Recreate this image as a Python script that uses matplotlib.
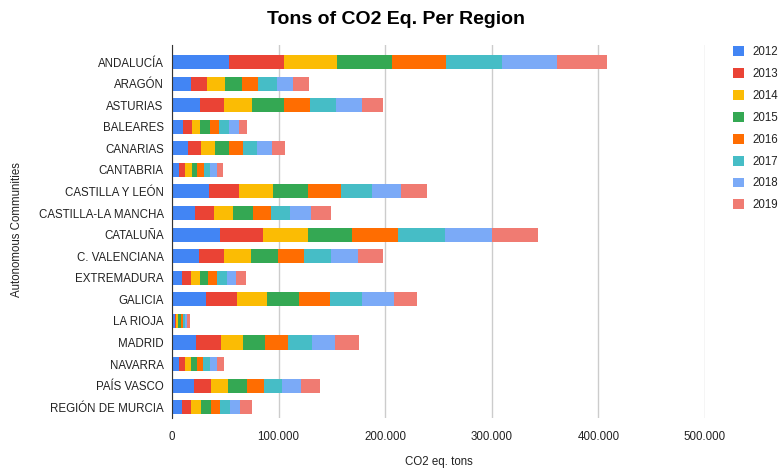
import numpy as np
import matplotlib.pyplot as plt
from matplotlib.ticker import FuncFormatter
from matplotlib.patches import Patch

plt.rcParams['font.family'] = ['Liberation Sans', 'DejaVu Sans']

regions = ["ANDALUCÍA", "ARAGÓN", "ASTURIAS", "BALEARES", "CANARIAS", "CANTABRIA",
           "CASTILLA Y LEÓN", "CASTILLA-LA MANCHA", "CATALUÑA", "C. VALENCIANA",
           "EXTREMADURA", "GALICIA", "LA RIOJA", "MADRID", "NAVARRA", "PAÍS VASCO",
           "REGIÓN DE MURCIA"]
years = ["2012", "2013", "2014", "2015", "2016", "2017", "2018", "2019"]

# tons per region, one list per year
y2012 = [53800, 17800, 25900, 10300, 14700, 6600, 35000, 21300, 44700, 25000, 9400, 31900, 2500, 22800, 6600, 20300, 9100]
y2013 = [50900, 15000, 23100, 8100, 12800, 5600, 27800, 18100, 40900, 24100, 8100, 29100, 1500, 22800, 5600, 16300, 9000]
y2014 = [49700, 16600, 25600, 8100, 12800, 6200, 31900, 18100, 41600, 24700, 8400, 28100, 2000, 20900, 5600, 16200, 9400]
y2015 = [52200, 16200, 30000, 9100, 12800, 5300, 32500, 18400, 41500, 25300, 8100, 30000, 2200, 20900, 5900, 17500, 9100]
y2016 = [50300, 15300, 24400, 8400, 13400, 5900, 30900, 16900, 43700, 24400, 8100, 28700, 1800, 21600, 5600, 16300, 8100]
y2017 = [52200, 17200, 25000, 9100, 13400, 5900, 29700, 18100, 43400, 25600, 9100, 30000, 2000, 21900, 6200, 16200, 9700]
y2018 = [51900, 15600, 24700, 9700, 13700, 6300, 27200, 19400, 44400, 25300, 9100, 30000, 2000, 21900, 6300, 18100, 9400]
y2019 = [46600, 15000, 18800, 7800, 12200, 6200, 24100, 18400, 43100, 23700, 8700, 22200, 2500, 22200, 7200, 17800, 11600]

series = [y2012, y2013, y2014, y2015, y2016, y2017, y2018, y2019]
colors = ["#4285F4", "#EA4335", "#FBBC04", "#34A853", "#FF6D01", "#46BDC6", "#7BAAF7", "#F07B72"]

fig = plt.figure(figsize=(7.79, 4.68), dpi=100)
ax = fig.add_axes([172/779, 1-418/468, 533/779, 373/468])

pos = np.arange(len(regions))
left = np.zeros(len(regions))
for vals, c in zip(series, colors):
    ax.barh(pos, vals, left=left, height=0.65, color=c, zorder=3)
    left += np.array(vals)

ax.set_xlim(0, 500000)
ax.set_ylim(16.5, -0.79)
ax.set_yticks(pos)
ax.set_yticklabels(regions)
ax.set_xticks(np.arange(0, 500001, 100000))
ax.xaxis.set_major_formatter(FuncFormatter(lambda v, p: f"{int(v):,}".replace(",", ".")))
ax.tick_params(length=0, labelsize=8.3, colors="#222222")
ax.tick_params(axis="x", pad=9)
ax.tick_params(axis="y", pad=6)
ax.grid(axis="x", color="#cccccc", linewidth=1, zorder=0)

for s in ["top", "right", "bottom"]:
    ax.spines[s].set_visible(False)
ax.spines["left"].set_color("#333333")
ax.spines["left"].set_zorder(4)

ax.set_xlabel("CO2 eq. tons", fontsize=8.3, color="#222222", va="center")
ax.xaxis.set_label_coords(0.5, (418-462)/373)
ax.set_ylabel("Autonomous Communities", fontsize=8.3, color="#222222", va="center")
ax.yaxis.set_label_coords((17-172)/533, (418-230)/373)

fig.text(396/779, 1-20/468, "Tons of CO2 Eq. Per Region", ha="center", va="center",
         fontsize=14, fontweight="bold", color="#000000")

handles = [Patch(facecolor=c, label=y) for c, y in zip(colors, years)]
fig.legend(handles=handles, loc="upper left", bbox_to_anchor=(733/779, 1-46/468),
           frameon=False, fontsize=8.3, handlelength=0.95, handleheight=0.95,
           handletextpad=0.75, labelspacing=0.86, labelcolor="#222222",
           borderpad=0, borderaxespad=0)

fig.savefig("out.png", dpi=100)
